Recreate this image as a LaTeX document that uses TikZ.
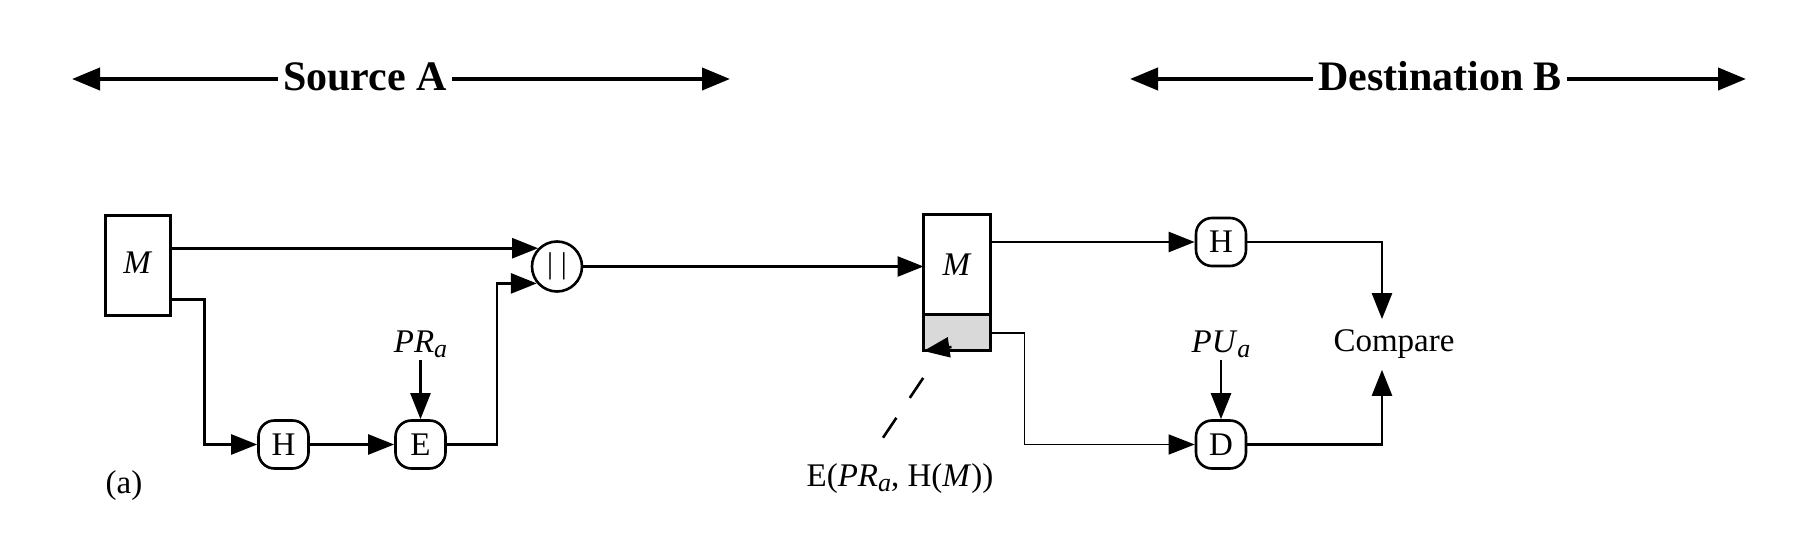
\documentclass[tikz,border=0pt]{standalone}
\usepackage{fontspec}
\setmainfont{Liberation Serif}
\usepackage{tikz}
\usetikzlibrary{arrows.meta, positioning, calc}
\definecolor{siggray}{HTML}{D9D9D9}
\newcommand{\keysub}[1]{\raisebox{-2.5pt}{\fontsize{13}{13}\selectfont\textit{#1}}}
\newcommand{\keyPR}{\textit{PR}\keysub{a}}
\newcommand{\keyPU}{\textit{PU}\keysub{a}}

\begin{document}
\begin{tikzpicture}[
  x=0.5pt, y=-0.5pt,
  every node/.style={font=\fontsize{16.5}{20}\selectfont},
  heading/.style={font=\fontsize{21}{25}\selectfont\bfseries, inner xsep=2.5pt, anchor=base},
  msgbox/.style={rectangle, draw, line width=1.5pt, minimum width=32.5pt, minimum height=50pt, inner sep=0pt, outer sep=0pt},
  fnbox/.style={rectangle, rounded corners=8pt, draw, line width=1.3pt, minimum width=25pt, minimum height=24pt, inner sep=0pt},
  joint/.style={circle, draw, line width=1.3pt, minimum size=25pt, inner sep=0pt},
  keylbl/.style={anchor=south, inner sep=1pt},
  arrow/.style={-{Triangle[length=13pt, width=10pt]}, line width=1.3pt},
  thinarrow/.style={arrow, line width=0.7pt},
  headarrow/.style={-{Triangle[length=14pt, width=11pt]}, line width=2pt},
  dashline/.style={line width=1.3pt, dash pattern=on 12pt off 12pt}
]
  \useasboundingbox (0,0) rectangle (1810,550);

  % Headings
  \node[heading] (srcA) at (365,91) {Source A};
  \node[heading] (dstB) at (1440,91) {Destination B};
  \coordinate (srcL) at (72,79);
  \coordinate (srcR) at (730,79);
  \coordinate (dstL) at (1130,79);
  \coordinate (dstR) at (1746,79);
  \draw[headarrow] (srcA.west |- srcL) -- (srcL);
  \draw[headarrow] (srcA.east |- srcR) -- (srcR);
  \draw[headarrow] (dstB.west |- dstL) -- (dstL);
  \draw[headarrow] (dstB.east |- dstR) -- (dstR);

  % Source side
  \node[msgbox] (msgA) at (138,265.5) {\raisebox{3pt}{\textit{M}}};
  \node[joint, font=\fontsize{15}{17}\selectfont] (cat) at (557,266.5) {|\hspace{4pt}|};
  \node[fnbox] (hA) at (283.5,444.5) {H};
  \node[fnbox] (encA) at (420.5,444.5) {E};
  \node[keylbl] (prA) at (420.5,360) {\keyPR};
  \node (tagA) at (124,486) {(a)};

  % Destination side
  \node[msgbox, minimum width=33.5pt] (msgB) at (957,265) {\textit{M}};
  \node[msgbox, minimum width=33.5pt, minimum height=18pt, fill=siggray, below=0pt of msgB] (sigB) {};
  \node[fnbox] (hB) at (1221,242) {H};
  \node[fnbox] (decB) at (1221,444.5) {D};
  \node[keylbl] (puB) at (1221,360) {\keyPU};
  \node[inner ysep=5.25pt] (cmp) at (1394,344.5) {Compare};
  \node[anchor=base, inner sep=1pt] (sigLbl) at (900,487) {E(\keyPR, H(\textit{M}))};

  % Source connections
  \draw[arrow] (msgA.east |- cat.136) -- (cat.136);
  \draw[arrow] ([yshift=-17pt]msgA.east) -- ++(34,0) |- (hA.west);
  \draw[arrow] (hA) -- (encA);
  \draw[arrow] (prA) -- (encA);
  \draw[arrow] (encA.east) -- ++(50,0) |- (cat.220);
  \draw[arrow] (cat.east) -- (cat.east -| msgB.west);

  % Destination connections
  \draw[arrow] (msgB.east |- hB.west) -- (hB.west);
  \draw[arrow] (hB.east) -| ([xshift=-6pt]cmp.north);
  \draw[thinarrow] (sigB.east) -- ++(34,0) |- (decB.west);
  \draw[arrow] (puB) -- (decB);
  \draw[arrow] (decB.east) -| ([xshift=-6pt]cmp.south);

  % Signature pointer
  \draw[arrow] ([shift={(28,-4)}]sigB.south west) -- (sigB.south west);
  \draw[dashline] ([shift={(-17,-24)}]sigLbl.north) -- ([shift={(1,25)}]sigB.south west);
\end{tikzpicture}
\end{document}
